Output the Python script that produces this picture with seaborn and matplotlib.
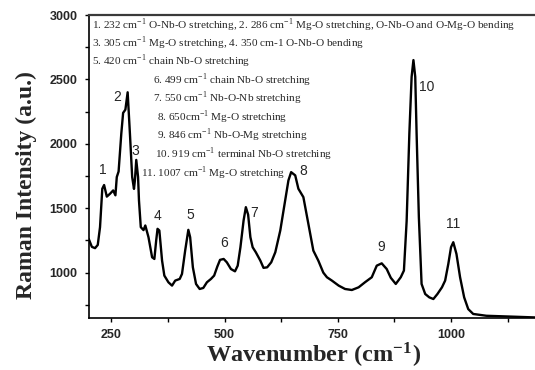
import matplotlib
matplotlib.use('Agg')
import matplotlib.pyplot as plt
import seaborn as sns
import pandas as pd

# ── Data ─────────────────────────────────────────────────────────────────────
wavenumber = [200, 207, 214, 220, 225, 230, 234, 240, 247, 254, 259, 262, 266,
              272, 276, 281, 286, 291, 296, 300, 302, 305, 309, 311, 315, 321,
              325, 332, 340, 345, 349, 352, 356, 362, 367, 376, 384, 391, 401,
              406, 413, 420, 424, 430, 437, 445, 453, 461, 470, 477, 484, 490,
              498, 505, 514, 523, 529, 535, 542, 547, 552, 557, 562, 569, 579,
              586, 594, 603, 612, 623, 631, 641, 647, 656, 663, 674, 685, 696,
              707, 718, 726, 737, 752, 766, 781, 796, 810, 825, 836, 847, 858,
              867, 878, 889, 896, 902, 908, 913, 917, 921, 924, 929, 935, 943,
              952, 961, 970, 980, 987, 994, 1000, 1005, 1012, 1020, 1029, 1038,
              1049, 1078, 1137, 1186, 1200]
intensity = [1262, 1200, 1190, 1215, 1353, 1651, 1680, 1590, 1612, 1638, 1600,
             1742, 1785, 2080, 2240, 2265, 2400, 2080, 1742, 1650, 1716, 1875,
             1742, 1560, 1353, 1330, 1366, 1275, 1119, 1106, 1249, 1340, 1327,
             1093, 977, 925, 899, 938, 951, 990, 1171, 1332, 1275, 1041, 912,
             873, 881, 925, 951, 977, 1047, 1099, 1106, 1080, 1028, 1010, 1054,
             1197, 1405, 1508, 1450, 1275, 1197, 1158, 1093, 1037, 1041, 1080,
             1158, 1327, 1500, 1716, 1780, 1755, 1651, 1586, 1379, 1171, 1093,
             1000, 964, 938, 899, 873, 865, 886, 925, 964, 1054, 1072, 1028,
             960, 912, 964, 1016, 1400, 2080, 2520, 2650, 2520, 2080, 1430, 912,
             834, 808, 795, 834, 886, 938, 1067, 1197, 1236, 1145, 964, 808,
             717, 679, 665, 658, 652, 651]

# peak numbers and where their labels sit (data coords)
peak_labels = ['1', '2', '3', '4', '5', '6', '7', '8', '9', '10', '11']
label_x = [232, 263, 303, 351, 424, 499, 565, 674, 846, 947, 1004]
label_y = [1794, 2362, 1942, 1436, 1451, 1233, 1459, 1786, 1195, 2440, 1374]

cm = r'cm$^{\mathregular{-1}}$'
assign_lines = [
    f'1. 232 {cm} O-Nb-O stretching, 2. 286 {cm} Mg-O stretching, O-Nb-O and O-Mg-O bending',
    f'3. 305 {cm} Mg-O stretching, 4. 350 cm-1 O-Nb-O bending',
    f'5. 420 {cm} chain Nb-O stretching',
    f'6. 499 {cm} chain Nb-O stretching',
    f'7. 550 {cm} Nb-O-Nb stretching',
    f'8. 650{cm} Mg-O stretching',
    f'9. 846 {cm} Nb-O-Mg stretching',
    f'10. 919 {cm} terminal Nb-O stretching',
    f'11. 1007 {cm} Mg-O stretching',
]
# left edge / vertical centre of each line, in pixels of the 535x370 figure
assign_px = [(92, 25), (92, 43), (92, 61), (153, 80), (153, 98),
             (157, 117), (157, 135), (155, 154), (141, 173)]

df = pd.DataFrame({'Wavenumber': wavenumber, 'Intensity': intensity})

# ── Plot ─────────────────────────────────────────────────────────────────────
sns.set_style('ticks')
plt.rcParams['font.family'] = ['Liberation Sans', 'DejaVu Sans']
plt.rcParams['mathtext.fontset'] = 'stix'

W, H = 535, 370
fig = plt.figure(figsize=(W / 100, H / 100), dpi=100)
ax = fig.add_axes([88.7 / W, 1 - 317.7 / H, (541.6 - 88.7) / W, (317.7 - 15) / H])

sns.lineplot(data=df, x='Wavenumber', y='Intensity', ax=ax,
             color='black', linewidth=1.7, sort=False)

ax.set_xlim(200, 1200)
ax.set_ylim(650, 3000)
ax.set_xticks([250, 500, 750, 1000])
ax.set_xticks([375, 625, 875, 1125], minor=True)
ax.set_yticks([1000, 1500, 2000, 2500, 3000])
ax.set_yticks([750, 1250, 1750, 2250, 2750], minor=True)
ax.tick_params(which='both', direction='out', length=3, width=1, color='black')
ax.tick_params(axis='x', pad=5)
ax.tick_params(axis='y', pad=5)
for lab in ax.get_xticklabels() + ax.get_yticklabels():
    lab.set_fontweight('bold')
    lab.set_fontsize(9)

for side in ['left', 'bottom']:
    ax.spines[side].set_linewidth(1.2)
    ax.spines[side].set_color('black')
ax.spines['top'].set_visible(True)
ax.spines['top'].set_linewidth(1.6)
ax.spines['top'].set_color('#3a3a3a')
ax.spines['right'].set_visible(False)

ax.set_xlabel(r'Wavenumber (cm$^{\mathregular{-1}}$)', family='Liberation Serif',
              fontsize=17.5, fontweight='bold', va='center')
ax.xaxis.set_label_coords(0.496, -0.125)
ax.set_ylabel('Raman Intensity (a.u.)', family='Liberation Serif',
              fontsize=17, fontweight='bold', va='center')
ax.yaxis.set_label_coords(-0.138, 0.438)

for lab, lx, ly in zip(peak_labels, label_x, label_y):
    ax.text(lx, ly, lab, ha='center', va='center', fontsize=10,
            family='Liberation Sans')

for txt, (px, py) in zip(assign_lines, assign_px):
    fig.text(px / W, 1 - py / H, txt, ha='left', va='center', fontsize=8.1,
             family='Liberation Serif')

fig.savefig('out.png', dpi=100, facecolor='white')
plt.close(fig)
